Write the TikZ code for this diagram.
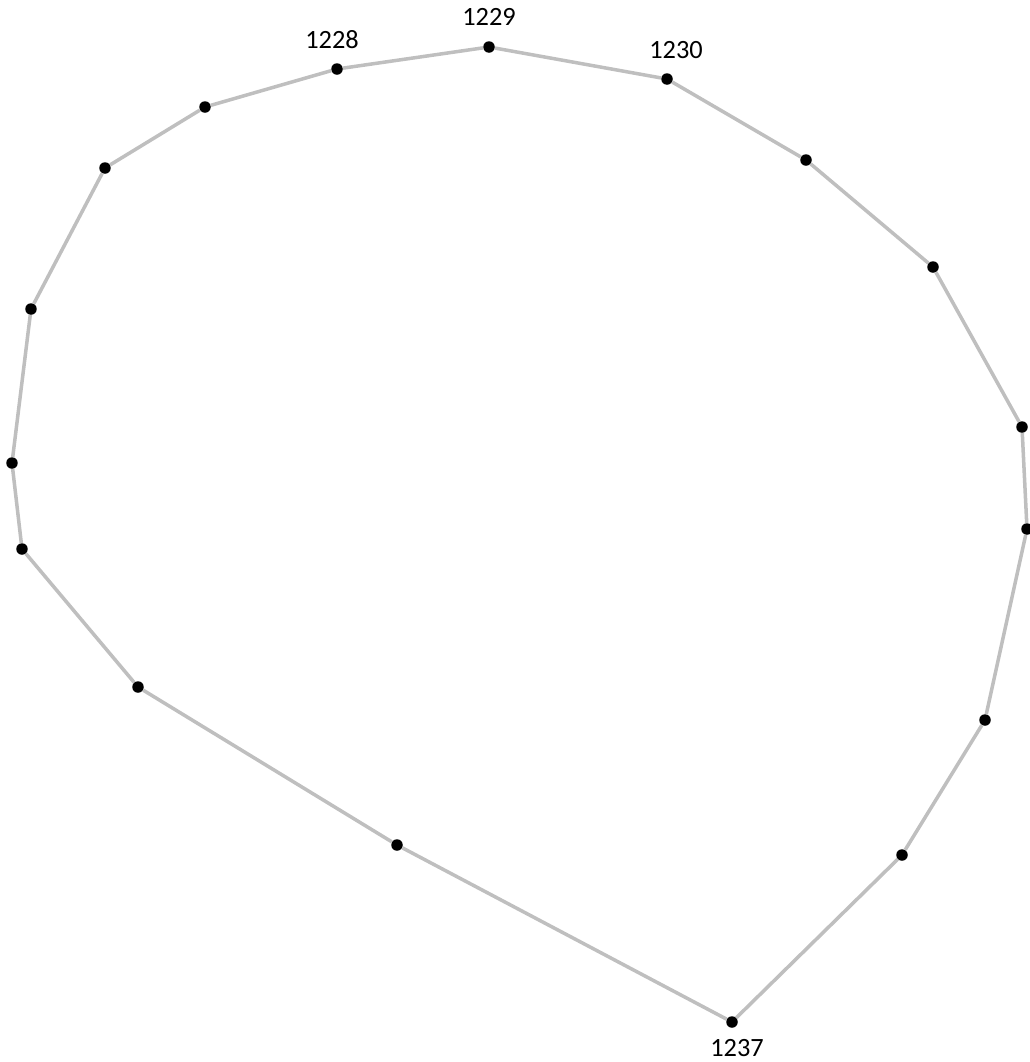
\documentclass[tikz,border=0pt]{standalone}
\usepackage{fontspec}
\setmainfont{Carlito}
\usetikzlibrary{positioning}

\begin{document}
\begin{tikzpicture}[x=0.02cm,y=-0.02cm,
   pt/.style={circle,fill=black,minimum size=2.3mm,inner sep=0pt},
   lbl/.style={font=\fontsize{15}{18}\selectfont,inner sep=0pt},
   rim/.style={gray!50,line width=2pt}]
\useasboundingbox (0,0) rectangle (1029,1062);
%% ---- vertices of the ring ----
\node[pt] (v1)  at (337,69)   {};
\node[pt] (v2)  at (489,47)   {};
\node[pt] (v3)  at (667,79)   {};
\node[pt] (v4)  at (806,160)  {};
\node[pt] (v5)  at (933,267)  {};
\node[pt] (v6)  at (1022,427) {};
\node[pt] (v7)  at (1027,529) {};
\node[pt] (v8)  at (985,720)  {};
\node[pt] (v9)  at (902,855)  {};
\node[pt] (v10) at (732,1022) {};
\node[pt] (v11) at (397,845)  {};
\node[pt] (v12) at (138,687)  {};
\node[pt] (v13) at (22,549)   {};
\node[pt] (v14) at (12,463)   {};
\node[pt] (v15) at (31,309)   {};
\node[pt] (v16) at (105,168)  {};
\node[pt] (v17) at (205,107)  {};

%% ---- edges ----
\foreach \a/\b in {1/2,2/3,3/4,4/5,5/6,6/7,7/8,8/9,9/10,10/11,11/12,12/13,13/14,14/15,15/16,16/17,17/1}
  \draw[rim] (v\a)--(v\b);

%% ---- labels ----
\node[lbl] (t1228) at (332,40)   {1228};
\node[lbl] (t1229) at (489,17)   {1229};
\node[lbl] (t1230) at (676,50)   {1230};
\node[lbl] (t1237) at (737,1048) {1237};
\end{tikzpicture}
\end{document}
